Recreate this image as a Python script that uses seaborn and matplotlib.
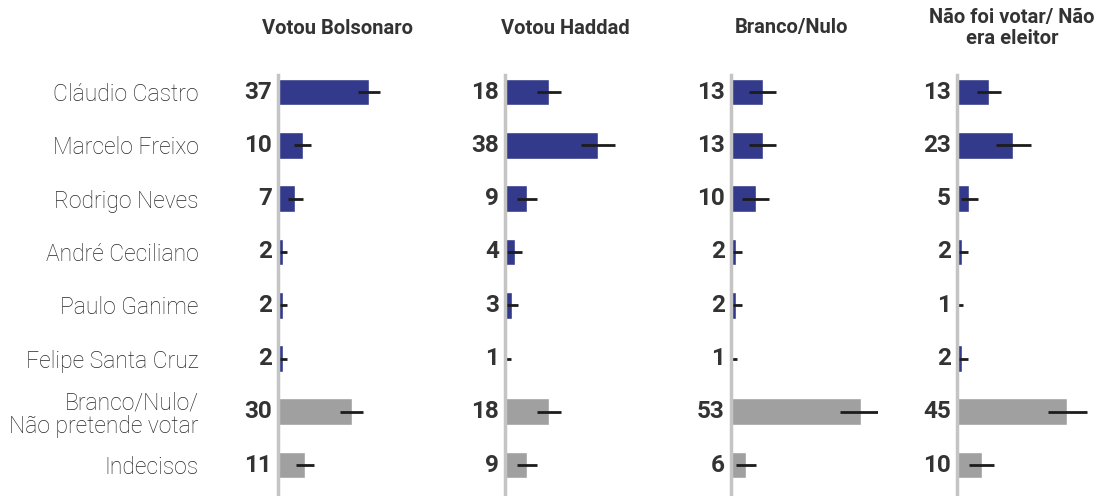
import matplotlib
matplotlib.use("Agg")
import matplotlib.pyplot as plt
import seaborn as sns
import pandas as pd
import numpy as np

categories = ["Cláudio Castro", "Marcelo Freixo", "Rodrigo Neves", "André Ceciliano",
              "Paulo Ganime", "Felipe Santa Cruz", "Branco/Nulo/\nNão pretende votar", "Indecisos"]
panels = ["Votou Bolsonaro", "Votou Haddad", "Branco/Nulo", "Não foi votar/ Não\nera eleitor"]

bolsonaro = [37, 10, 7, 2, 2, 2, 30, 11]
haddad = [18, 38, 9, 4, 3, 1, 18, 9]
branco = [13, 13, 10, 2, 2, 1, 53, 6]
naofoi = [13, 23, 5, 2, 1, 2, 45, 10]

err_bolsonaro = [4.5, 3.5, 3, 1.5, 1.5, 1.5, 4.5, 3.5]
err_haddad = [5, 7, 4, 3, 2.5, 1.5, 5, 4]
err_branco = [5.5, 5.5, 5.5, 2.5, 2.5, 1.5, 8.5, 4]
err_naofoi = [5, 7, 3.5, 2.5, 1.5, 2.5, 8, 5]

values = [bolsonaro, haddad, branco, naofoi]
errors = [err_bolsonaro, err_haddad, err_branco, err_naofoi]

BLUE = "#343a8b"
GRAY = "#a0a0a0"
palette = [BLUE] * 6 + [GRAY] * 2

sns.set_theme(style="white")
plt.rcParams["font.family"] = ["Roboto", "DejaVu Sans"]

W, H = 1103, 496
fig = plt.figure(figsize=(W / 100, H / 100), dpi=100)

px_per_unit = 2.45
xmax = 60
zeros_px = [278, 505, 731, 957]
ax_w = xmax * px_per_unit / W
ax_bottom = 0.0
ax_h = 421 / H

for i, (name, vals, errs) in enumerate(zip(panels, values, errors)):
    ax = fig.add_axes([zeros_px[i] / W, ax_bottom, ax_w, ax_h])
    df = pd.DataFrame({"cat": categories, "val": vals})
    sns.barplot(data=df, x="val", y="cat", hue="cat", palette=palette, legend=False,
                ax=ax, width=0.5, orient="h", saturation=1)
    pos = np.arange(len(categories))
    ax.errorbar(vals, pos, xerr=errs, fmt="none", ecolor="#1c1c1c", elinewidth=2, capsize=0)
    ax.set_xlim(0, xmax)
    ax.set_ylim(len(categories) - 0.42, -0.32)
    ax.set_xlabel("")
    ax.set_ylabel("")
    ax.set_xticks([])
    for s in ["top", "right", "bottom"]:
        ax.spines[s].set_visible(False)
    ax.spines["left"].set_color("#c4c4c4")
    ax.spines["left"].set_linewidth(2.5)
    ax.tick_params(axis="y", length=0)
    if i == 0:
        ax.set_yticks(pos)
        ax.set_yticklabels(categories, fontsize=16.5, fontweight="light", color="#262626",
                           linespacing=1.05)
        ax.tick_params(axis="y", pad=57)
    else:
        ax.set_yticks([])
    for p, v in zip(pos, vals):
        ax.annotate(str(v), xy=(0, p), xytext=(-4.5, 0), textcoords="offset points",
                    ha="right", va="center", fontsize=17.5, fontweight="bold", color="#333333")
    fig.text((zeros_px[i] + (60 if i < 3 else 55)) / W, 1 - 28 / H, name, ha="center", va="center",
             fontsize=14.5, fontweight="bold", color="#333333", linespacing=1.2)

fig.savefig("out.png", dpi=100, facecolor="white")
